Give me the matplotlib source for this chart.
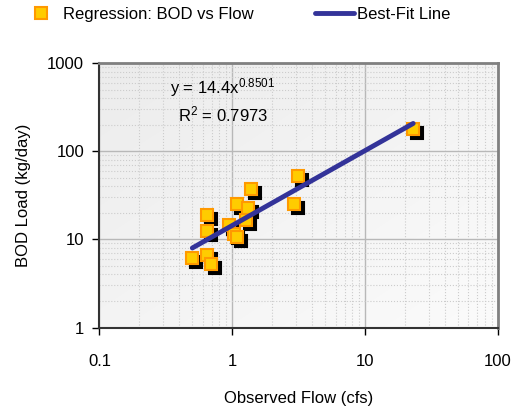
import numpy as np
import matplotlib
matplotlib.use("Agg")
import matplotlib.pyplot as plt
from matplotlib.transforms import offset_copy
from matplotlib.ticker import FixedLocator, FixedFormatter, LogLocator, NullFormatter
from matplotlib.lines import Line2D

plt.rcParams.update({
    "font.family": ["Liberation Sans", "DejaVu Sans"],
    "font.size": 12,
    "mathtext.default": "regular",
})

# observed flow (cfs) and BOD load (kg/day)
flow = [3.13, 1.38, 1.09, 1.32, 2.89, 0.64, 0.64, 0.94, 1.27, 1.03, 1.09, 0.50, 0.64, 0.69, 23.0]
bod = [52.7, 37.5, 25.4, 22.7, 25.2, 19.0, 12.6, 14.6, 16.7, 11.6, 10.6, 6.1, 6.7, 5.2, 180]

coef = 14.4
expo = 0.8501
r2 = 0.7973

xticks = [0.1, 1, 10, 100]
xlabels = ["0.1", "1", "10", "100"]
yticks = [1, 10, 100, 1000]
ylabels = ["1", "10", "100", "1000"]

fig = plt.figure(figsize=(5.32, 4.13), dpi=100)
ax = fig.add_axes([0.187, 0.207, 0.749, 0.64])
ax.set_xscale("log")
ax.set_yscale("log")
ax.set_xlim(0.1, 100)
ax.set_ylim(1, 1000)

# soft grey background, lighter towards the bottom right
gx, gy = np.meshgrid(np.linspace(0, 1, 200), np.linspace(0, 1, 200))
shade = 0.925 + 0.06 * (gx + gy) / 2
img = np.dstack([shade, shade, shade])
ax.imshow(img, extent=(0, 1, 0, 1), transform=ax.transAxes,
          aspect="auto", zorder=0, origin="upper", interpolation="bilinear")

ax.xaxis.set_major_locator(FixedLocator(xticks))
ax.xaxis.set_major_formatter(FixedFormatter(xlabels))
ax.yaxis.set_major_locator(FixedLocator(yticks))
ax.yaxis.set_major_formatter(FixedFormatter(ylabels))
ax.xaxis.set_minor_locator(LogLocator(base=10, subs=np.arange(2, 10)))
ax.yaxis.set_minor_locator(LogLocator(base=10, subs=np.arange(2, 10)))
ax.xaxis.set_minor_formatter(NullFormatter())
ax.yaxis.set_minor_formatter(NullFormatter())
ax.grid(which="major", color="#b8b8b8", lw=1.0, zorder=1)
ax.grid(which="minor", color="#cccccc", lw=0.8, ls=":", zorder=1)
ax.tick_params(which="minor", length=0)
ax.tick_params(which="major", direction="out", length=5, width=1, pad=6)
ax.tick_params(axis="x", pad=14)
ax.set_axisbelow(True)

for s in ["top", "right"]:
    ax.spines[s].set_color("#808080")
    ax.spines[s].set_linewidth(2)
for s in ["left", "bottom"]:
    ax.spines[s].set_color("#333333")
    ax.spines[s].set_linewidth(1.5)

# black drop shadow under each marker
shadow = offset_copy(ax.transData, fig=fig, x=4, y=-4, units="dots")
ax.plot(flow, bod, ls="none", marker="s", ms=8, mfc="black", mec="black", mew=1.5,
        transform=shadow, zorder=2.5)
ax.plot(flow, bod, ls="none", marker="s", ms=8, mfc="#ffcc00", mec="#ff9900", mew=1.5,
        zorder=3)

xfit = np.array([min(flow), max(flow)])
ax.plot(xfit, coef * xfit ** expo, color="#333399", lw=3.5, solid_capstyle="round", zorder=4)

ax.text(0.178, 0.885, "y = 14.4x$^{0.8501}$", transform=ax.transAxes, fontsize=12)
ax.text(0.196, 0.78, "R$^2$ = %.4f" % r2, transform=ax.transAxes, fontsize=12)

ax.set_xlabel("Observed Flow (cfs)", fontsize=12, labelpad=16)
ax.set_ylabel("BOD Load (kg/day)", fontsize=12, labelpad=12)

handles = [
    Line2D([], [], ls="none", marker="s", ms=8, mfc="#ffcc00", mec="#ff9900", mew=1.5),
    Line2D([], [], color="#333399", lw=3.5, solid_capstyle="round"),
]
fig.legend(handles, ["Regression: BOD vs Flow", "Best-Fit Line"], loc="upper left",
           bbox_to_anchor=(0.012, 1.02), ncol=2, frameon=False, fontsize=12,
           handlelength=2.3, columnspacing=3.7, handletextpad=0.2)

fig.savefig("out.png", dpi=100)
